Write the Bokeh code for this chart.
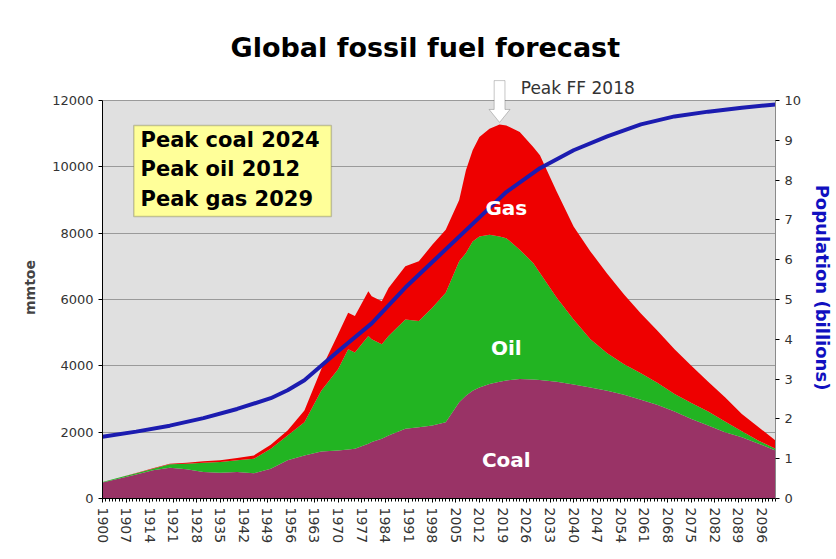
import numpy as np
from bokeh.plotting import figure
from bokeh.models import (Range1d, LinearAxis, FixedTicker, Label, BoxAnnotation,
                          PolyAnnotation, ColumnDataSource)
from bokeh.embed import file_html
from bokeh.resources import INLINE

# ---------------- data ----------------
years = [1900, 1905, 1910, 1915, 1920, 1925, 1930, 1935, 1940, 1945, 1950, 1955,
         1960, 1965, 1970, 1973, 1975, 1979, 1980, 1983, 1985, 1990, 1994, 1998,
         2002, 2006, 2008, 2010, 2012, 2015, 2018, 2020, 2024, 2028, 2030, 2035,
         2040, 2045, 2050, 2055, 2060, 2065, 2070, 2075, 2080, 2085, 2090, 2095, 2100]
coal = [480, 600, 720, 850, 930, 880, 800, 780, 800, 760, 900, 1150,
        1300, 1420, 1450, 1480, 1500, 1650, 1700, 1800, 1900, 2100, 2150, 2200,
        2300, 2900, 3100, 3250, 3350, 3450, 3520, 3560, 3600, 3590, 3570, 3520,
        3440, 3350, 3250, 3130, 2980, 2820, 2620, 2400, 2200, 2000, 1850, 1650, 1450]
oil = [20, 30, 40, 50, 100, 170, 280, 320, 350, 440, 600, 750,
       1000, 1830, 2450, 3020, 2900, 3250, 3100, 2850, 3000, 3300, 3200, 3550,
       3900, 4250, 4300, 4500, 4550, 4500, 4380, 4290, 3900, 3510, 3230, 2530,
       1960, 1450, 1130, 920, 800, 660, 530, 480, 420, 320, 180, 90, 50]
gas = [0, 5, 10, 15, 20, 30, 40, 50, 70, 100, 120, 150,
       350, 650, 1050, 1100, 1100, 1350, 1300, 1300, 1450, 1600, 1800, 1900,
       1900, 1850, 2500, 2750, 3000, 3200, 3380, 3400, 3550, 3500, 3550, 3200,
       2800, 2650, 2400, 2100, 1800, 1570, 1350, 1120, 900, 730, 520, 410, 250]

pop_years = [1900, 1910, 1920, 1930, 1940, 1950, 1955, 1960, 1970, 1980, 1990, 2000,
             2010, 2020, 2030, 2040, 2050, 2060, 2070, 2080, 2090, 2100]
population = [1.55, 1.68, 1.83, 2.02, 2.25, 2.52, 2.72, 2.97, 3.7, 4.4, 5.3, 6.1,
              6.9, 7.7, 8.3, 8.75, 9.1, 9.4, 9.6, 9.72, 9.82, 9.9]

x_ticks = list(range(1900, 2101, 7))
y_ticks = [0, 2000, 4000, 6000, 8000, 10000, 12000]
pop_ticks = list(range(0, 11))
peak_lines = ["Peak coal 2024", "Peak oil 2012", "Peak gas 2029"]

# ---------------- derived stacks ----------------
c = np.array(coal, dtype=float)
co = c + np.array(oil, dtype=float)
cog = co + np.array(gas, dtype=float)
src = ColumnDataSource(dict(x=years, zero=np.zeros(len(years)), c=c, co=co, cog=cog))

FONT = "DejaVu Sans"
YMAX = 12000
PMAX = 10
# frame is extended a little above the axis maximum to leave room for the arrow
EXT = 422.0 / 398.0

p = figure(width=836, height=559, output_backend="svg", toolbar_location=None,
           x_range=Range1d(1900, 2100), y_range=Range1d(0, YMAX * EXT),
           min_border_left=102, min_border_right=55, min_border_top=76,
           min_border_bottom=61)
p.background_fill_color = "white"
p.border_fill_color = "white"
p.outline_line_color = None

# grey plot area (only up to the axis maximum)
p.add_layout(BoxAnnotation(left=1900, right=2100, bottom=0, top=YMAX,
                           fill_color="#e0e0e0", fill_alpha=1.0, line_color=None,
                           level="image"))

p.title.text = "Global fossil fuel forecast"
p.title.text_font = FONT
p.title.text_font_size = "27px"
p.title.text_font_style = "bold"
p.title.text_color = "black"
p.title.align = "left"
p.title.offset = 128
p.title.standoff = 27

# areas
p.varea(x="x", y1="zero", y2="c", source=src, fill_color="#993366")
p.varea(x="x", y1="c", y2="co", source=src, fill_color="#22b422")
p.varea(x="x", y1="co", y2="cog", source=src, fill_color="#ee0000")

# population
p.extra_y_ranges = {"pop": Range1d(0, PMAX * EXT)}
p.line(pop_years, population, y_range_name="pop", line_color="#1c1cb0", line_width=4)

# axes
xa = p.xaxis[0]
xa.ticker = FixedTicker(ticks=x_ticks, minor_ticks=list(range(1900, 2101)))
xa.major_label_orientation = "vertical"
xa.major_label_text_font = FONT
xa.major_label_text_font_size = "14px"
xa.major_label_text_color = "#333333"
xa.major_tick_in = 0
xa.major_tick_out = 4
xa.minor_tick_in = 0
xa.minor_tick_out = 3
xa.axis_line_color = "black"

ya = p.yaxis[0]
ya.ticker = FixedTicker(ticks=y_ticks)
ya.bounds = (0, YMAX)
ya.major_label_text_font = FONT
ya.major_label_text_font_size = "13px"
ya.major_label_text_color = "#333333"
ya.major_tick_in = 0
ya.major_tick_out = 4
ya.minor_tick_line_color = None
ya.axis_label = "mmtoe"
ya.axis_label_text_font = FONT
ya.axis_label_text_font_size = "14px"
ya.axis_label_text_font_style = "bold"
ya.axis_label_standoff = 11

ra = LinearAxis(y_range_name="pop", ticker=FixedTicker(ticks=pop_ticks), bounds=(0, PMAX))
ra.major_label_text_font = FONT
ra.major_label_text_font_size = "13px"
ra.major_label_text_color = "#333333"
ra.major_tick_in = 0
ra.major_tick_out = 4
ra.minor_tick_line_color = None
ra.axis_line_color = "#8a8a8a"
ra.axis_label = "Population (billions)"
ra.axis_label_text_font = FONT
ra.axis_label_text_font_size = "18px"
ra.axis_label_text_font_style = "bold"
ra.axis_label_text_color = "#1010c0"
ra.axis_label_standoff = 8
p.add_layout(ra, "right")

p.xgrid.grid_line_color = None
p.ygrid.grid_line_color = "#9a9a9a"
p.ygrid.grid_line_width = 1
p.ygrid.bounds = (1900, 2100)

# yellow box with peak years
p.add_layout(BoxAnnotation(left=1909.3, right=1968.0, bottom=8500, top=11250,
                           fill_color="#ffff99", fill_alpha=1.0,
                           line_color="#555533", line_width=1.5))
for i, t in enumerate(peak_lines):
    p.add_layout(Label(x=1911.3, y=10800 - i * 880, text=t, text_font=FONT,
                       text_font_size="21px", text_font_style="bold",
                       text_baseline="middle", text_color="black"))

# area labels
for t, yv in [("Gas", 8770), ("Oil", 4550), ("Coal", 1150)]:
    p.add_layout(Label(x=2020, y=yv, text=t, text_font=FONT, text_font_size="20px",
                       text_font_style="bold", text_align="center",
                       text_baseline="middle", text_color="white"))

# peak FF arrow and label
ipk = int(np.argmax(cog))
px_, py_ = years[ipk], cog[ipk]
tip = py_ + 60
head = tip + 390
top = tip + 1260
p.add_layout(PolyAnnotation(
    xs=[px_, px_ - 3.1, px_ - 1.6, px_ - 1.6, px_ + 1.6, px_ + 1.6, px_ + 3.1],
    ys=[tip, head, head, top, top, head, head],
    fill_color="white", fill_alpha=1.0, line_color="#444444", line_width=1))
p.add_layout(Label(x=2024.3, y=12370, text="Peak FF 2018", text_font=FONT,
                   text_font_size="17px", text_baseline="middle", text_color="#333333"))

open("out.html", "w").write(file_html(p, INLINE))
